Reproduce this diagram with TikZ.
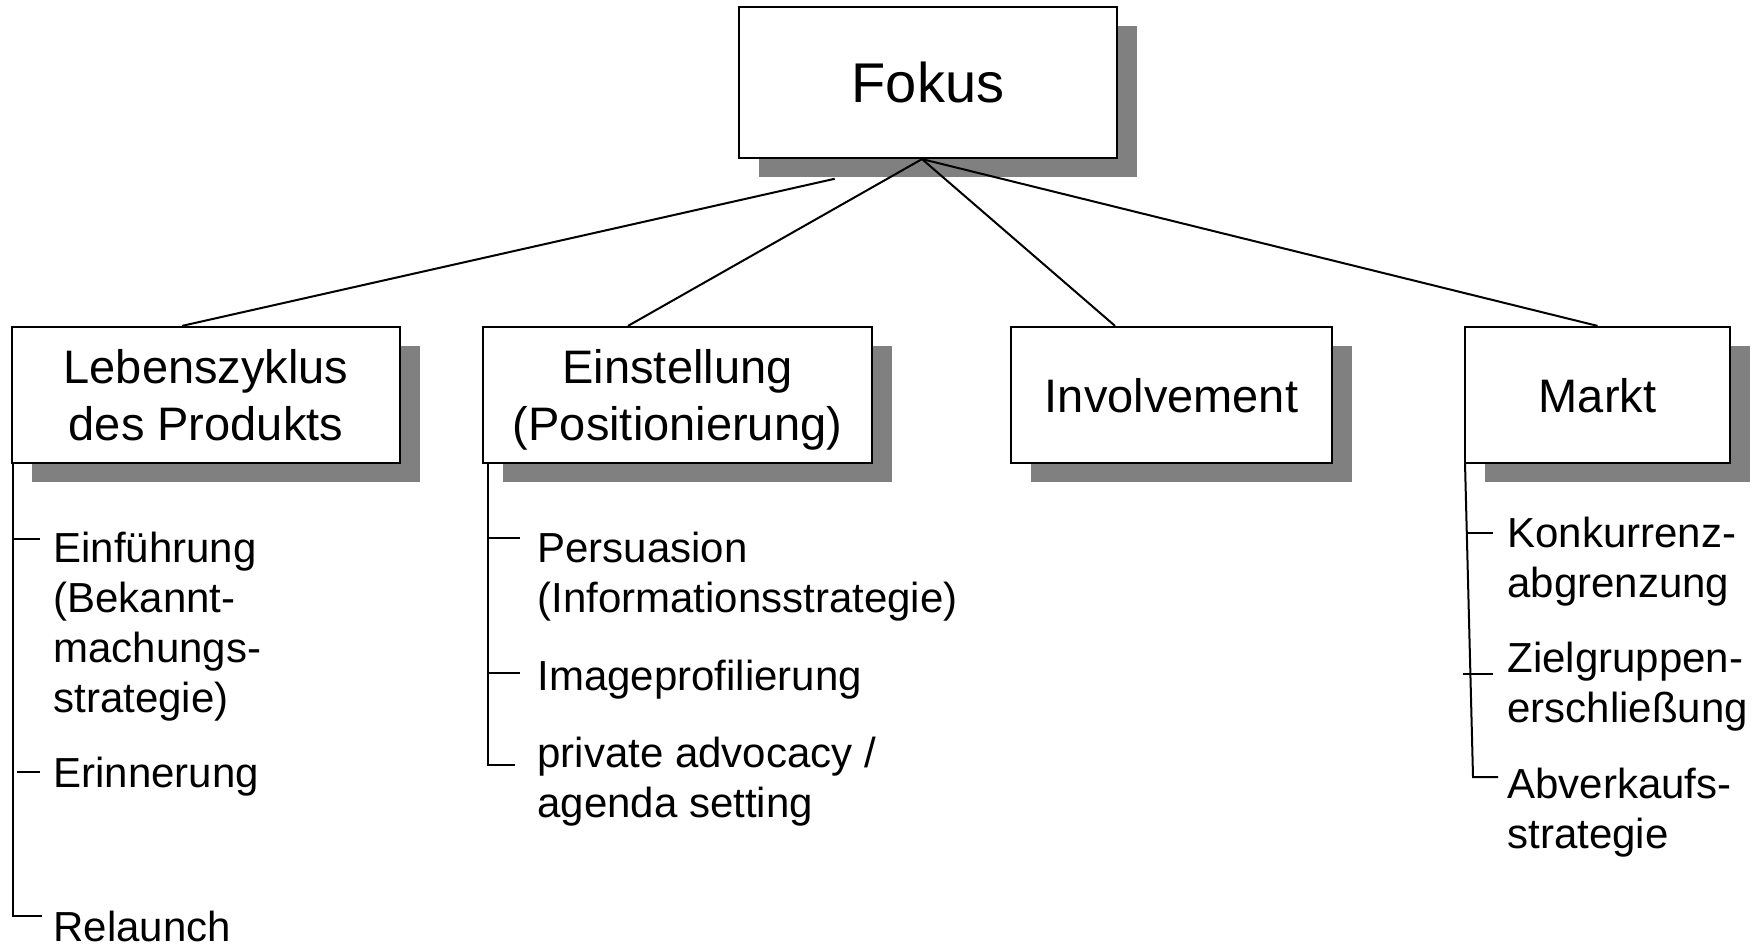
\documentclass[tikz,border=0pt]{standalone}
\usepackage{fontspec}
\setmainfont{Liberation Sans}
\usetikzlibrary{shadows,calc}

\tikzset{
  box/.style={draw=black, line width=1.1pt, fill=white, align=center,
    inner sep=0pt, text depth=0pt,
    drop shadow={shadow xshift=9.75pt, shadow yshift=-9.75pt,
                 fill=black!50, opacity=1}},
  boxfont/.style={font=\fontsize{23.5}{28.5}\selectfont},
  topfont/.style={font=\fontsize{28}{33}\selectfont},
  item/.style={anchor=base west, inner sep=0pt,
    font=\fontsize{21}{25}\selectfont},
  link/.style={line width=1pt},
  tree/.style={line width=1pt},
}
\newcommand{\lines}[1]{\begin{tabular}[t]{@{}l@{}}#1\end{tabular}}

\begin{document}
\begin{tikzpicture}[x=0.5pt, y=-0.5pt]
\useasboundingbox (0,0) rectangle (1764,945);

% main boxes
\node[box, topfont, minimum width=189pt, minimum height=75.5pt]
  (fokus) at (928,82.5) {Fokus};
\node[box, boxfont, minimum width=194pt, minimum height=68pt]
  (leben) at (206,395) {Lebenszyklus\\des Produkts};
\node[box, boxfont, minimum width=194.5pt, minimum height=68pt]
  (einst) at (677.5,395) {Einstellung\\(Positionierung)};
\node[box, boxfont, minimum width=160.5pt, minimum height=68pt]
  (invol) at (1171.5,395) {Involvement};
\node[box, boxfont, minimum width=132.5pt, minimum height=68pt]
  (markt) at (1597.5,395) {Markt};

% connectors from the top box
\coordinate (apex) at ([xshift=-3pt]fokus.south);
\coordinate (tL) at ([xshift=-12pt]leben.north);
\coordinate (tE) at ([xshift=-24.75pt]einst.north);
\coordinate (tI) at ([xshift=-28.25pt]invol.north);
\coordinate (tM) at (markt.north);
\draw[link] (apex) -- (tE);
\draw[link] (apex) -- (tI);
\draw[link] (apex) -- (tM);
% the left connector runs beneath the shadow of the top box
\draw[link] (tL) -- ($(tL)!0.882!(apex)$);

% sub items: Lebenszyklus
\node[item] (einf) at (53,562)
  {\lines{Einführung\\(Bekannt-\\machungs-\\strategie)}};
\node[item] (erin) at (53,787) {Erinnerung};
\node[item] (rela) at (53,941) {Relaunch};
\coordinate (l0) at (13,463);
\coordinate (l1) at (13,539);
\coordinate (l2) at (17,772);
\coordinate (l3) at (13,916);
\draw[tree] (l0) -- (l3) -- (42,916);
\draw[tree] (l1) -- (40,539);
\draw[tree] (l2) -- (40,772);

% sub items: Einstellung
\node[item] (pers) at (537,562)
  {\lines{Persuasion\\(Informationsstrategie)}};
\node[item] (imag) at (537,690) {Imageprofilierung};
\node[item] (priv) at (537,767)
  {\lines{private advocacy /\\agenda setting}};
\coordinate (e0) at (488,463);
\coordinate (e3) at (488,765);
\draw[tree] (e0) -- (e3) -- (515,765);
\draw[tree] (488,538) -- (520,538);
\draw[tree] (488,673) -- (520,673);

% sub items: Markt
\node[item] (konk) at (1507,547) {\lines{Konkurrenz-\\abgrenzung}};
\node[item] (ziel) at (1507,672) {\lines{Zielgruppen-\\erschließung}};
\node[item] (abve) at (1507,798) {\lines{Abverkaufs-\\strategie}};
\coordinate (m0) at (1465,463);
\coordinate (m3) at (1473,777);
\draw[tree] (m0) -- (m3) -- (1498,777);
\draw[tree] (1466,533) -- (1493,533);
\draw[tree] (1463,674) -- (1493,674);
\end{tikzpicture}
\end{document}
